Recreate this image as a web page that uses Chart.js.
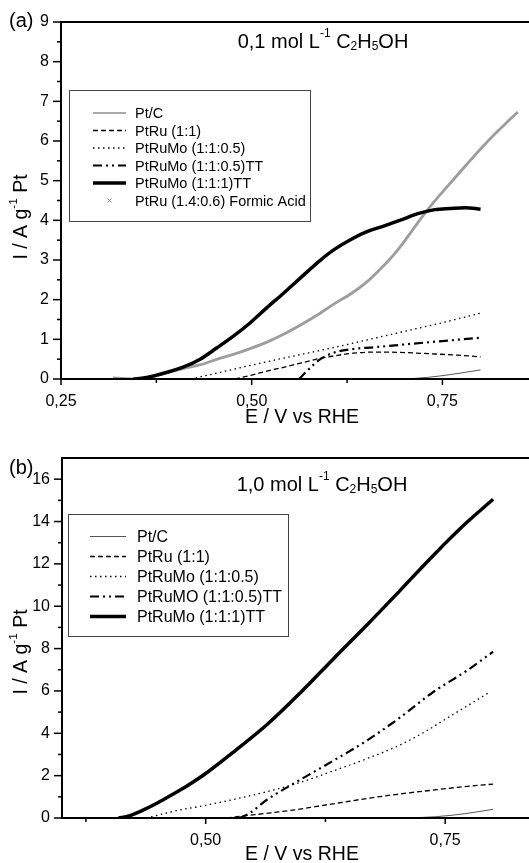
<!DOCTYPE html>
<html>
<head>
<meta charset="utf-8">
<script src="https://cdn.jsdelivr.net/npm/chart.js@4.4.1/dist/chart.umd.min.js"></script>
<style>
    html, body { margin: 0; padding: 0; background: #fff; }
    #wrap { position: relative; width: 529px; height: 863px; overflow: hidden; }
    canvas { position: absolute; left: 0; }
    #chartA { top: 0; }
    #chartB { top: 430px; }
</style>
</head>
<body>
<div id="wrap">
    <canvas id="chartA" width="529" height="430"></canvas>
    <canvas id="chartB" width="529" height="433"></canvas>
</div>
<script>
"use strict";

// ===== DATA (E / V vs RHE, I / A g-1 Pt) =====
// panel (a): 0,1 mol L-1 ethanol
const labelsA = ['Pt/C', 'PtRu (1:1)', 'PtRuMo (1:1:0.5)', 'PtRuMo (1:1:0.5)TT', 'PtRuMo (1:1:1)TT', 'PtRu (1.4:0.6) Formic Acid'];
const a_PtC = [[0.70, 0], [0.73, 0.04], [0.76, 0.11], [0.80, 0.23]];
const a_PtRu = [[0.478, 0], [0.50, 0.1], [0.52, 0.2], [0.543, 0.3], [0.564, 0.4], [0.585, 0.5], [0.607, 0.58], [0.633, 0.65], [0.66, 0.68], [0.694, 0.67], [0.74, 0.63], [0.77, 0.6], [0.80, 0.56]];
const a_PtRuMo05 = [[0.42, 0], [0.45, 0.13], [0.50, 0.35], [0.55, 0.56], [0.607, 0.79], [0.65, 0.98], [0.70, 1.2], [0.75, 1.42], [0.80, 1.66]];
const a_PtRuMo05TT = [[0.562, 0], [0.575, 0.25], [0.59, 0.5], [0.607, 0.66], [0.63, 0.75], [0.66, 0.8], [0.694, 0.86], [0.74, 0.94], [0.77, 0.99], [0.80, 1.04]];
const a_PtRuMo1TT = [[0.345, 0], [0.36, 0.03], [0.38, 0.12], [0.41, 0.3], [0.4325, 0.5], [0.454, 0.78], [0.476, 1.08], [0.497, 1.4], [0.52, 1.8], [0.541, 2.15], [0.564, 2.55], [0.589, 2.98], [0.607, 3.25], [0.633, 3.55], [0.652, 3.72], [0.672, 3.85], [0.694, 4.0], [0.72, 4.18], [0.74, 4.27], [0.76, 4.3], [0.78, 4.32], [0.80, 4.28]];
const a_Formic = [[0.318, 0.03], [0.335, 0.01], [0.35, 0], [0.38, 0.12], [0.41, 0.26], [0.433, 0.36], [0.455, 0.5], [0.476, 0.62], [0.497, 0.76], [0.52, 0.93], [0.541, 1.12], [0.564, 1.36], [0.585, 1.6], [0.607, 1.88], [0.63, 2.15], [0.651, 2.45], [0.67, 2.8], [0.69, 3.22], [0.705, 3.6], [0.72, 4.0], [0.737, 4.42], [0.76, 4.93], [0.78, 5.37], [0.80, 5.8], [0.82, 6.2], [0.835, 6.48], [0.849, 6.73]];

// panel (b): 1,0 mol L-1 ethanol
const labelsB = ['Pt/C', 'PtRu (1:1)', 'PtRuMo (1:1:0.5)', 'PtRuMO (1:1:0.5)TT', 'PtRuMo (1:1:1)TT'];
const b_PtC = [[0.71, 0], [0.74, 0.06], [0.77, 0.2], [0.80, 0.41]];
const b_PtRu = [[0.522, 0], [0.54, 0.1], [0.5636, 0.22], [0.5985, 0.42], [0.616, 0.55], [0.64, 0.72], [0.668, 0.92], [0.70, 1.12], [0.7376, 1.32], [0.77, 1.48], [0.80, 1.6]];
const b_PtRuMo05 = [[0.443, 0.05], [0.47, 0.35], [0.50, 0.6], [0.5636, 1.24], [0.60, 1.7], [0.633, 2.22], [0.668, 2.8], [0.703, 3.45], [0.73, 4.1], [0.755, 4.8], [0.775, 5.35], [0.797, 5.96]];
const b_PtRuMo05TT = [[0.535, 0], [0.545, 0.2], [0.5636, 0.85], [0.5985, 1.8], [0.633, 2.7], [0.668, 3.65], [0.703, 4.75], [0.7376, 5.95], [0.7724, 6.95], [0.80, 7.85]];
const b_PtRuMo1TT = [[0.409, 0], [0.42, 0.1], [0.435, 0.38], [0.45, 0.72], [0.463, 1.05], [0.48, 1.5], [0.50, 2.1], [0.53, 3.15], [0.565, 4.45], [0.5985, 5.9], [0.633, 7.5], [0.668, 9.1], [0.703, 10.75], [0.7376, 12.4], [0.7724, 13.95], [0.80, 15.05]];

// tick positions
const xMajorA = [0.25, 0.5, 0.75];
const xMinorA = [0.375, 0.625];
const yMajorA = [0, 1, 2, 3, 4, 5, 6, 7, 8, 9];
const yMinorA = [0.5, 1.5, 2.5, 3.5, 4.5, 5.5, 6.5, 7.5, 8.5];
const xMajorB = [0.5, 0.75];
const xMinorB = [0.375, 0.625];
const yMajorB = [0, 2, 4, 6, 8, 10, 12, 14, 16];
const yMinorB = [1, 3, 5, 7, 9, 11, 13, 15];

// ===== STYLES =====
const FONT = "'Liberation Sans', Arial, sans-serif";
const lineStyles = [
    { color: '#555', width: 1, dash: [] },
    { color: '#000', width: 1.3, dash: [5, 3] },
    { color: '#000', width: 1.3, dash: [1.5, 3.5] },
    { color: '#000', width: 2.2, dash: [9, 4, 2, 4, 2, 4] },
    { color: '#000', width: 3.5, dash: [] },
    { color: '#9d9d9d', width: 2.8, dash: [] }
];

Chart.defaults.font.family = FONT;
Chart.defaults.color = '#000';

function makeDatasets(seriesList, labels) {
    return seriesList.map((s, i) => ({
        label: labels[i],
        data: s.map(p => ({ x: p[0], y: p[1] })),
        borderColor: lineStyles[i].color,
        borderWidth: lineStyles[i].width,
        borderDash: lineStyles[i].dash,
        pointRadius: 0,
        fill: false,
        cubicInterpolationMode: 'monotone',
        borderCapStyle: 'butt'
    }));
}

// draw text made of plain / superscript / subscript pieces
function richWidth(ctx, parts, size) {
    let w = 0;
    parts.forEach(p => {
        ctx.font = (p.k ? size * 0.6 : size) + 'px ' + FONT;
        w += ctx.measureText(p.t).width;
    });
    return w;
}

function drawRich(ctx, parts, x, y, size) {
    let cx = x;
    parts.forEach(p => {
        const s = p.k ? size * 0.6 : size;
        ctx.font = s + 'px ' + FONT;
        let dy = 0;
        if (p.k === 'sup') dy = -size * 0.42;
        if (p.k === 'sub') dy = size * 0.22;
        ctx.fillText(p.t, cx, y + dy);
        cx += ctx.measureText(p.t).width;
    });
}

function line(ctx, x1, y1, x2, y2) {
    ctx.beginPath();
    ctx.moveTo(x1, y1);
    ctx.lineTo(x2, y2);
    ctx.stroke();
}

// frame, ticks, titles and boxed legend
function panelDecor(cfg) {
    return {
        id: 'panelDecor',
        afterDatasetsDraw(chart) {
            const { ctx, chartArea: a, scales: { x, y } } = chart;
            ctx.save();
            ctx.strokeStyle = '#000';
            ctx.fillStyle = '#000';

            // ticks
            ctx.lineWidth = 1.5;
            cfg.xMajor.forEach(v => { const p = x.getPixelForValue(v); line(ctx, p, a.bottom, p, a.bottom + 6); });
            cfg.xMinor.forEach(v => { const p = x.getPixelForValue(v); line(ctx, p, a.bottom, p, a.bottom + 4); });
            cfg.yMajor.forEach(v => { const p = y.getPixelForValue(v); line(ctx, a.left - 8, p, a.left, p); });
            cfg.yMinor.forEach(v => { const p = y.getPixelForValue(v); line(ctx, a.left - 4, p, a.left, p); });

            // frame (right side is outside the picture)
            ctx.lineWidth = 2;
            line(ctx, a.left, a.top - 1, a.left, a.bottom + 1);
            line(ctx, a.left - 1, a.bottom, a.right, a.bottom);
            line(ctx, a.left - 1, a.top, a.right, a.top);

            // panel label
            ctx.textBaseline = 'middle';
            ctx.textAlign = 'left';
            ctx.font = '20px ' + FONT;
            ctx.fillText(cfg.panel, cfg.panelPos[0], cfg.panelPos[1]);

            // concentration title
            ctx.textBaseline = 'middle';
            const tw = richWidth(ctx, cfg.title, 20);
            drawRich(ctx, cfg.title, cfg.titlePos[0] - tw / 2, cfg.titlePos[1], 20);

            // axis titles
            ctx.font = '19.5px ' + FONT;
            ctx.textAlign = 'center';
            ctx.fillText('E / V vs RHE', cfg.xTitlePos[0], cfg.xTitlePos[1]);
            ctx.textAlign = 'left';
            const yParts = [{ t: 'I / A g' }, { t: '-1', k: 'sup' }, { t: ' Pt' }];
            const yw = richWidth(ctx, yParts, 19.5);
            ctx.save();
            ctx.translate(cfg.yTitlePos[0], cfg.yTitlePos[1]);
            ctx.rotate(-Math.PI / 2);
            drawRich(ctx, yParts, -yw / 2, 0, 19.5);
            ctx.restore();

            // legend box
            const [bx0, by0, bx1, by1] = cfg.legendBox;
            ctx.lineWidth = 1;
            ctx.strokeStyle = '#444';
            ctx.strokeRect(bx0 + 0.5, by0 + 0.5, bx1 - bx0, by1 - by0);
            chart.data.datasets.forEach((ds, i) => {
                const ry = cfg.legendRow0 + i * cfg.legendStep;
                ctx.save();
                if (i === cfg.markerRow) {
                    // formic acid curve shown by its cross marker
                    const mx = (cfg.sampleX[0] + cfg.sampleX[1]) / 2;
                    ctx.strokeStyle = '#888';
                    ctx.lineWidth = 1;
                    line(ctx, mx - 2, ry - 2, mx + 2, ry + 2);
                    line(ctx, mx - 2, ry + 2, mx + 2, ry - 2);
                } else {
                    ctx.strokeStyle = ds.borderColor;
                    ctx.lineWidth = ds.borderWidth;
                    ctx.setLineDash(ds.borderDash);
                    line(ctx, cfg.sampleX[0], ry, cfg.sampleX[1], ry);
                }
                ctx.restore();
                ctx.font = cfg.legendFont + 'px ' + FONT;
                ctx.textAlign = 'left';
                ctx.textBaseline = 'middle';
                ctx.fillText(ds.label, cfg.textX, ry + 1);
            });
            ctx.restore();
        }
    };
}

function fmtComma(v) {
    return v.toFixed(2).replace('.', ',');
}

function buildChart(canvasId, datasets, opt) {
    const ctx = document.getElementById(canvasId);
    return new Chart(ctx, {
        type: 'line',
        data: { datasets },
        options: {
            responsive: false,
            animation: false,
            devicePixelRatio: 1,
            layout: { padding: { top: opt.padTop, left: 0, right: 0, bottom: 0 } },
            plugins: { legend: { display: false }, title: { display: false }, tooltip: { enabled: false } },
            scales: {
                x: {
                    type: 'linear',
                    min: opt.xMin,
                    max: opt.xMax,
                    grid: { display: false, drawTicks: true, tickLength: 6 },
                    border: { display: false },
                    ticks: { font: { size: 16 }, padding: 7, maxRotation: 0, autoSkip: false, callback: v => fmtComma(v) },
                    afterBuildTicks: s => { s.ticks = opt.xMajor.map(v => ({ value: v })); },
                    afterFit: s => { s.height = opt.xHeight; }
                },
                y: {
                    type: 'linear',
                    min: 0,
                    max: opt.yMax,
                    grid: { display: false, drawTicks: true, tickLength: 8 },
                    border: { display: false },
                    ticks: { font: { size: 16 }, padding: 4, autoSkip: false, callback: v => String(v) },
                    afterBuildTicks: s => { s.ticks = opt.yMajor.map(v => ({ value: v })); },
                    afterFit: s => { s.width = opt.yWidth; }
                }
            }
        },
        plugins: [panelDecor(opt.decor)]
    });
}

document.addEventListener('DOMContentLoaded', () => {
    buildChart('chartA',
        makeDatasets([a_PtC, a_PtRu, a_PtRuMo05, a_PtRuMo05TT, a_PtRuMo1TT, a_Formic], labelsA),
        {
            padTop: 22, xMin: 0.25, xMax: 0.8635, yMax: 9, xHeight: 51, yWidth: 61,
            xMajor: xMajorA, yMajor: yMajorA,
            decor: {
                panel: '(a)', panelPos: [9, 21],
                title: [{ t: '0,1 mol L' }, { t: '-1', k: 'sup' }, { t: ' C' }, { t: '2', k: 'sub' }, { t: 'H' }, { t: '5', k: 'sub' }, { t: 'OH' }],
                titlePos: [323, 42],
                xTitlePos: [302, 418], yTitlePos: [22, 217],
                xMajor: xMajorA, xMinor: xMinorA, yMajor: yMajorA, yMinor: yMinorA,
                legendBox: [69, 90, 310, 221], legendRow0: 113, legendStep: 17.5,
                sampleX: [93, 126], textX: 135, legendFont: 14.5, markerRow: 5
            }
        });

    buildChart('chartB',
        makeDatasets([b_PtC, b_PtRu, b_PtRuMo05, b_PtRuMo05TT, b_PtRuMo1TT], labelsB),
        {
            padTop: 28, xMin: 0.35, xMax: 0.8375, yMax: 17, xHeight: 45, yWidth: 62,
            xMajor: xMajorB, yMajor: yMajorB,
            decor: {
                panel: '(b)', panelPos: [9, 38],
                title: [{ t: '1,0 mol L' }, { t: '-1', k: 'sup' }, { t: ' C' }, { t: '2', k: 'sub' }, { t: 'H' }, { t: '5', k: 'sub' }, { t: 'OH' }],
                titlePos: [322, 55],
                xTitlePos: [302, 425], yTitlePos: [22, 222],
                xMajor: xMajorB, xMinor: xMinorB, yMajor: yMajorB, yMinor: yMinorB,
                legendBox: [68, 84, 288, 206], legendRow0: 106.5, legendStep: 20,
                sampleX: [90, 126], textX: 137, legendFont: 16, markerRow: -1
            }
        });
});
</script>
</body>
</html>
